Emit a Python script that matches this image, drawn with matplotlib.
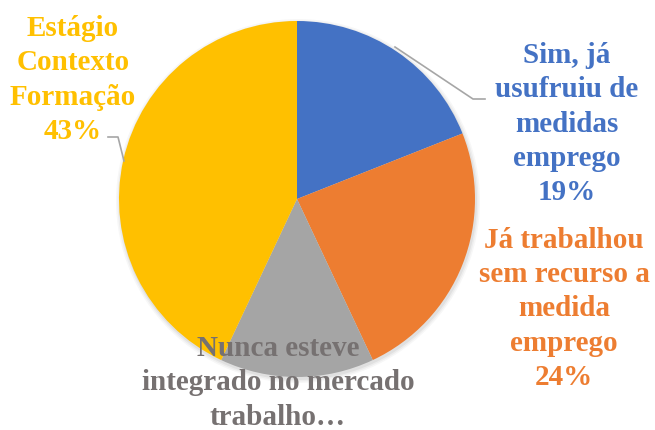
import matplotlib.pyplot as plt
from matplotlib.patches import Circle

labels = ["Sim, já\nusufruiu de\nmedidas\nemprego",
          "Já trabalhou\nsem recurso a\nmedida\nemprego",
          "Nunca esteve\nintegrado no mercado\ntrabalho…",
          "Estágio\nContexto\nFormação"]
values = [19, 24, 14, 43]
show_pct = [True, True, False, True]
colors = ["#4472C4", "#ED7D31", "#A5A5A5", "#FFC000"]
text_colors = ["#4472C4", "#ED7D31", "#767171", "#FFC000"]

# label centres in pixel coords (x, y from top)
label_pos = [(567, 124), (564, 309), (278, 383), (73, 80)]

W, H = 655, 431
fig = plt.figure(figsize=(W / 100, H / 100), dpi=100)
ax = fig.add_axes([0, 0, 1, 1])

cx, cy, r = 297, H - 200, 178

# soft shadow
for i, a in enumerate([0.05, 0.04, 0.03]):
    ax.add_patch(Circle((cx + 1, cy - 2), r + 1 + i * 1.5, color="black", alpha=a, lw=0, zorder=0))

ax.pie(values, colors=colors, startangle=90, counterclock=False,
       center=(cx, cy), radius=r, frame=True,
       wedgeprops=dict(linewidth=0, zorder=1))
ax.set_xlim(0, W)
ax.set_ylim(0, H)
ax.set_aspect("equal")
ax.axis("off")

# leader lines
ax.plot([395, 473, 485], [H - 48, H - 100, H - 100], color="#A6A6A6", lw=1.2, zorder=3)
ax.plot([108, 118, 124], [H - 138, H - 138, H - 162], color="#A6A6A6", lw=1.2, zorder=3)

for lab, v, show, c, (x, y) in zip(labels, values, show_pct, text_colors, label_pos):
    txt = f"{lab}\n{v}%" if show else lab
    ax.text(x, H - y, txt, ha="center", va="center", color=c,
            fontsize=21, fontweight="bold", family=["Liberation Serif", "DejaVu Serif"],
            linespacing=1.35, zorder=4)

fig.savefig("out.png", dpi=100)
